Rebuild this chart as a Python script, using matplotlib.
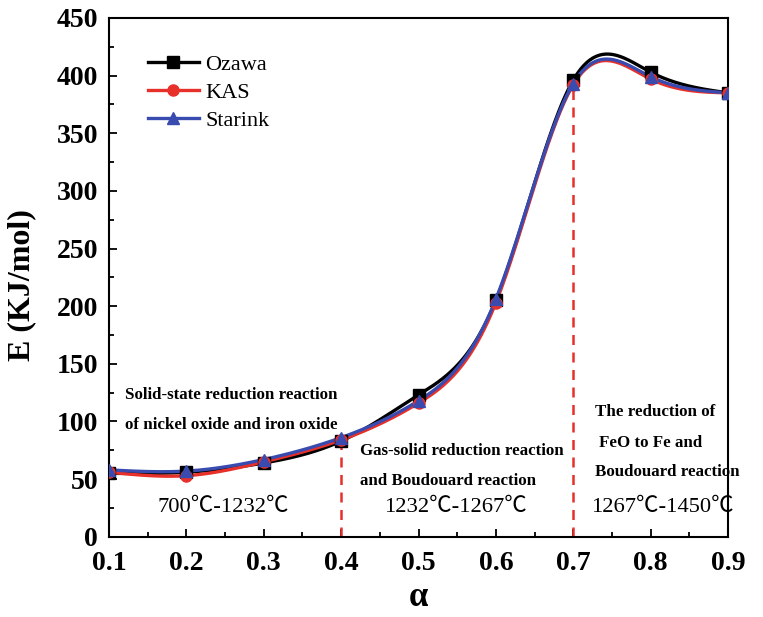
import numpy as np
import matplotlib
matplotlib.use("Agg")
import matplotlib.pyplot as plt
from matplotlib.ticker import MultipleLocator

alpha = [0.1, 0.2, 0.3, 0.4, 0.5, 0.6, 0.7, 0.8, 0.9]
ozawa = [55, 56, 64, 83, 123, 205, 396, 403, 385]
kas = [56, 53, 65, 84, 116, 203, 392, 397, 385]
starink = [58, 57, 67, 86, 118, 206, 393, 399, 385]
boundaries = [0.4, 0.7]
boundary_tops = [84, 393]


def natural_spline(x, y, xs):
    x = np.asarray(x, float); y = np.asarray(y, float)
    n = len(x)
    h = np.diff(x)
    A = np.zeros((n, n)); b = np.zeros(n)
    A[0, 0] = 1; A[-1, -1] = 1
    for i in range(1, n - 1):
        A[i, i - 1] = h[i - 1]
        A[i, i] = 2 * (h[i - 1] + h[i])
        A[i, i + 1] = h[i]
        b[i] = 3 * ((y[i + 1] - y[i]) / h[i] - (y[i] - y[i - 1]) / h[i - 1])
    c = np.linalg.solve(A, b)
    out = np.empty_like(xs)
    for k, xv in enumerate(xs):
        i = min(max(np.searchsorted(x, xv) - 1, 0), n - 2)
        dx = xv - x[i]
        bi = (y[i + 1] - y[i]) / h[i] - h[i] * (2 * c[i] + c[i + 1]) / 3
        di = (c[i + 1] - c[i]) / (3 * h[i])
        out[k] = y[i] + bi * dx + c[i] * dx ** 2 + di * dx ** 3
    return out


plt.rcParams['font.family'] = ['Liberation Serif', 'Noto Sans CJK SC']
fig = plt.figure(figsize=(7.63, 6.17), dpi=100)
ax = fig.add_axes([0.143, 0.130, 0.811, 0.841])

xs = np.linspace(0.1, 0.9, 400)
series = [("Ozawa", ozawa, "black", "s"),
          ("KAS", kas, "#e8302a", "o"),
          ("Starink", starink, "#3a4bb0", "^")]
for name, vals, col, mk in series:
    ax.plot(xs, natural_spline(alpha, vals, xs), color=col, lw=2.4, zorder=3)
    ax.plot(alpha, vals, ls='none', marker=mk, color=col, ms=8, zorder=4)
    ax.plot([], [], color=col, lw=2.4, marker=mk, ms=8, label=name)

for bx, top in zip(boundaries, boundary_tops):
    ax.plot([bx, bx], [0, top], color="#e8302a", lw=1.8, ls=(0, (4, 3)), zorder=2)

ax.set_xlim(0.1, 0.9)
ax.set_ylim(0, 450)
ax.xaxis.set_major_locator(MultipleLocator(0.1))
ax.xaxis.set_minor_locator(MultipleLocator(0.05))
ax.yaxis.set_major_locator(MultipleLocator(50))
ax.yaxis.set_minor_locator(MultipleLocator(25))
ax.tick_params(which='both', direction='in', top=False, right=False, width=1.3)
ax.tick_params(which='major', length=6, labelsize=20)
ax.tick_params(axis='x', which='major', pad=10)
ax.tick_params(axis='y', which='major', pad=8)
ax.tick_params(which='minor', length=3.5)
for lab in ax.get_xticklabels() + ax.get_yticklabels():
    lab.set_fontweight('bold')
for s in ax.spines.values():
    s.set_linewidth(1.5)

ax.set_xlabel("α", fontsize=25, fontweight='bold', labelpad=4)
ax.set_ylabel("E (KJ/mol)", fontsize=23, fontweight='bold')
ax.yaxis.set_label_coords(-0.118, 0.486)

leg = ax.legend(loc='upper left', bbox_to_anchor=(0.03, 0.968), frameon=False,
                fontsize=16, handlelength=2.3, labelspacing=0.33, handletextpad=0.3)

tkw = dict(fontsize=12.2, fontweight='bold', va='center', ha='left')
ax.text(0.1207, 123, "Solid-state reduction reaction", **tkw)
ax.text(0.1207, 97, "of nickel oxide and iron oxide", **tkw)
ax.text(0.424, 74, "Gas-solid reduction reaction", **tkw)
ax.text(0.424, 48.5, "and Boudouard reaction", **tkw)
ax.text(0.728, 108, "The reduction of", **tkw)
ax.text(0.733, 81.5, "FeO to Fe and", **tkw)
ax.text(0.728, 56, "Boudouard reaction", **tkw)

rkw = dict(fontsize=16.2, va='center', ha='center')
ax.text(0.247, 25, "700℃-1232℃", **rkw)
ax.text(0.548, 25, "1232℃-1267℃", **rkw)
ax.text(0.815, 25, "1267℃-1450℃", **rkw)

fig.savefig("out.png", dpi=100)
